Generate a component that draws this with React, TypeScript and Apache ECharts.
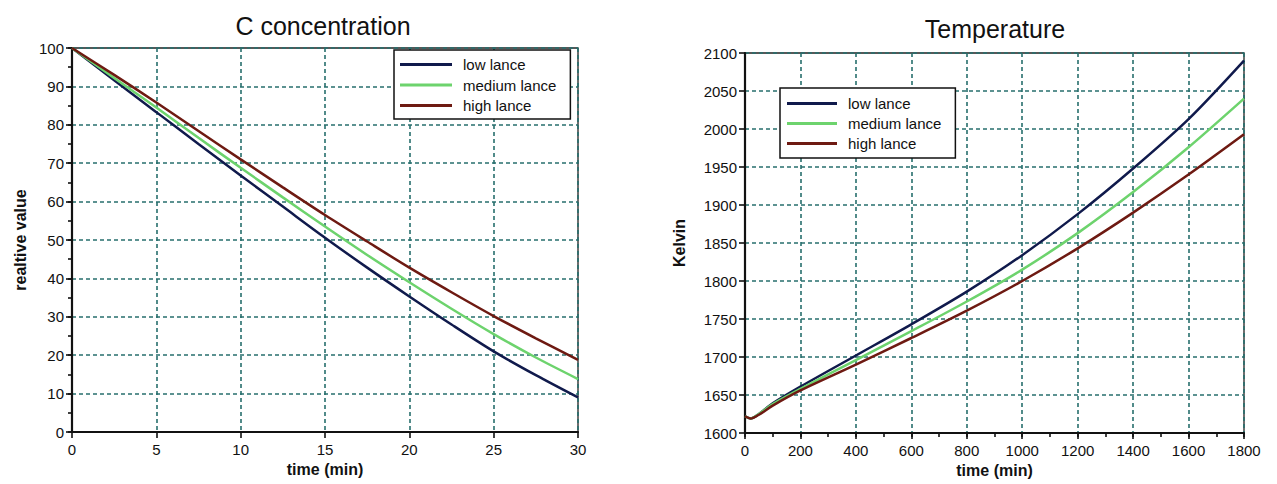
import React, { useEffect, useRef } from "react";
import * as echarts from "echarts";

// C concentration (relative value) vs time (min)
const timeC = [0, 2.5, 5, 7.5, 10, 12.5, 15, 17.5, 20, 22.5, 25, 27.5, 30];
const lowC = [100, 91.6, 83.3, 75, 66.8, 58.7, 50.6, 42.8, 35.3, 28, 21, 14.8, 9];
const mediumC = [100, 92.2, 84.5, 76.6, 68.8, 61.1, 53.5, 46.1, 39, 32.1, 25.5, 19.4, 13.8];
const highC = [100, 93, 85.8, 78.4, 71, 63.7, 56.5, 49.6, 42.8, 36.4, 30.2, 24.4, 18.8];

// Temperature (Kelvin) vs time (min)
const timeT = [0, 20, 50, 100, 200, 400, 600, 800, 1000, 1200, 1400, 1600, 1800];
const lowT = [1622, 1619, 1625, 1639, 1661, 1702, 1743, 1786, 1834, 1888, 1948, 2013, 2090];
const mediumT = [1622, 1619, 1625, 1638, 1658, 1696, 1734, 1773, 1815, 1863, 1917, 1976, 2040];
const highT = [1622, 1619, 1624, 1636, 1656, 1690, 1725, 1761, 1800, 1843, 1890, 1940, 1993];

const seriesNames = ["low lance", "medium lance", "high lance"];
const colors = ["#101a4c", "#6dd36d", "#6e1a12"];

const FONT = "Arial, 'Liberation Sans', sans-serif";
const GRID_COLOR = "#276f6d";

const pairs = (xs: number[], ys: number[]) => xs.map((x, i) => [x, ys[i]]);

export default function App() {
  const ref = useRef<HTMLDivElement>(null);
  useEffect(() => {
    if (!ref.current) return;
    const chart = echarts.init(ref.current, undefined, { renderer: "svg" });
    const splitLine = { show: true, lineStyle: { color: GRID_COLOR, width: 1.6, type: [4, 3] } };
    const axisLine = { show: true, onZero: false, lineStyle: { color: "#111", width: 2.2 } };
    const axisLabel = (margin: number) => ({
      color: "#111",
      fontSize: 15,
      fontFamily: FONT,
      margin,
      formatter: (v: number) => String(v),
    });
    const nameStyle = { color: "#111", fontSize: 16, fontWeight: "bold" as const, fontFamily: FONT };
    const tick = { show: true, length: 6, lineStyle: { color: "#111", width: 1.6 } };
    const minorAxis = {
      type: "value",
      axisLine: { show: false, onZero: false },
      axisTick: { show: true, length: 4, lineStyle: { color: "#111", width: 1.6 } },
      axisLabel: { show: false },
      splitLine: { show: false },
    };
    const legendCommon = {
      orient: "vertical" as const,
      icon: "rect",
      itemHeight: 3,
      borderColor: "#111",
      borderWidth: 1.5,
      backgroundColor: "#fff",
      data: seriesNames,
      textStyle: { color: "#111", fontSize: 15, fontFamily: FONT, padding: [0, 0, 0, 6] },
    };
    const mkSeries = (name: string, idx: number, xs: number[], ys: number[], axis: number) => ({
      type: "line",
      name,
      xAxisIndex: axis,
      yAxisIndex: axis,
      data: pairs(xs, ys),
      showSymbol: false,
      smooth: 0.3,
      lineStyle: { color: colors[idx], width: 2.5 },
      itemStyle: { color: colors[idx] },
      z: 5,
    });
    chart.setOption({
      animation: false,
      backgroundColor: "#fff",
      title: [
        {
          text: "C concentration",
          left: 318,
          top: 8,
          textAlign: "center",
          textStyle: { fontSize: 25, fontWeight: "normal", color: "#111", fontFamily: FONT },
        },
        {
          text: "Temperature",
          left: 990,
          top: 11,
          textAlign: "center",
          textStyle: { fontSize: 25, fontWeight: "normal", color: "#111", fontFamily: FONT },
        },
      ],
      legend: [
        { ...legendCommon, left: 394, top: 50, itemWidth: 52, itemGap: 5.5, padding: [7, 14, 6, 6] },
        { ...legendCommon, left: 780, top: 88, itemWidth: 50, itemGap: 5, padding: [8, 14, 7, 7] },
      ],
      grid: [
        { left: 72, top: 48, width: 506, height: 384, show: true, borderColor: "#222", borderWidth: 1.3, backgroundColor: "transparent" },
        { left: 745, top: 53, width: 499, height: 380, show: true, borderColor: "#222", borderWidth: 1.3, backgroundColor: "transparent" },
      ],
      xAxis: [
        {
          type: "value",
          gridIndex: 0,
          position: "bottom",
          min: 0,
          max: 30,
          interval: 5,
          name: "time (min)",
          nameLocation: "middle",
          nameGap: 28,
          nameTextStyle: nameStyle,
          axisLine,
          axisTick: tick,
          axisLabel: axisLabel(10),
          splitLine,
        },
        {
          type: "value",
          gridIndex: 1,
          position: "bottom",
          min: 0,
          max: 1800,
          interval: 200,
          name: "time (min)",
          nameLocation: "middle",
          nameGap: 28,
          nameTextStyle: nameStyle,
          axisLine,
          axisTick: tick,
          axisLabel: axisLabel(10),
          splitLine,
        },
        { ...minorAxis, gridIndex: 1, position: "bottom", offset: 0, min: 0, max: 1800, interval: 100 },
      ],
      yAxis: [
        {
          type: "value",
          gridIndex: 0,
          position: "left",
          min: 0,
          max: 100,
          interval: 10,
          name: "realtive value",
          nameLocation: "middle",
          nameGap: 44,
          nameTextStyle: nameStyle,
          axisLine,
          axisTick: tick,
          axisLabel: axisLabel(8),
          splitLine,
        },
        {
          type: "value",
          gridIndex: 1,
          position: "left",
          min: 1600,
          max: 2100,
          interval: 50,
          name: "Kelvin",
          nameLocation: "middle",
          nameGap: 58,
          nameTextStyle: nameStyle,
          axisLine,
          axisTick: tick,
          axisLabel: axisLabel(8),
          splitLine,
        },
        { ...minorAxis, gridIndex: 0, position: "left", offset: 0, min: 0, max: 100, interval: 5 },
      ],
      series: [
        mkSeries(seriesNames[0], 0, timeC, lowC, 0),
        mkSeries(seriesNames[1], 1, timeC, mediumC, 0),
        mkSeries(seriesNames[2], 2, timeC, highC, 0),
        mkSeries(seriesNames[0], 0, timeT, lowT, 1),
        mkSeries(seriesNames[1], 1, timeT, mediumT, 1),
        mkSeries(seriesNames[2], 2, timeT, highT, 1),
      ],
    });
    return () => chart.dispose();
  }, []);
  return (
    <div
      ref={ref}
      style={{ position: "fixed", left: 0, top: 0, width: 1277, height: 484, background: "#fff" }}
    />
  );
}
